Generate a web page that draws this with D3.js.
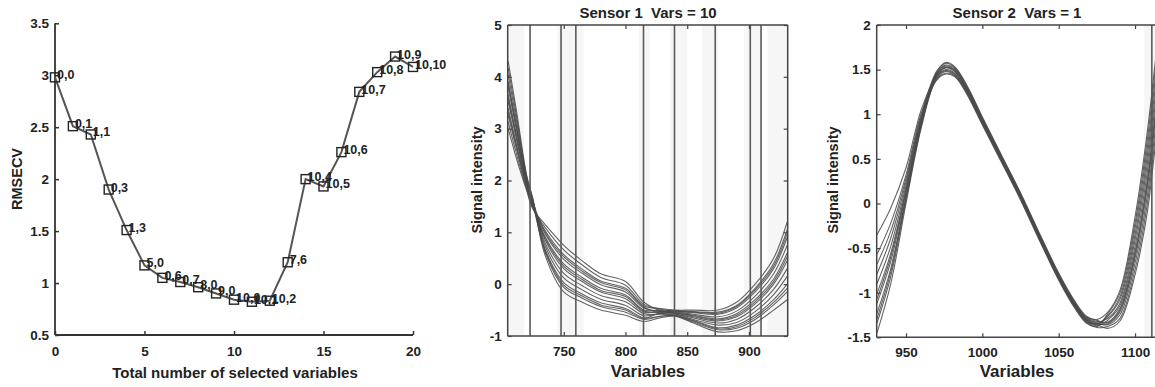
<!DOCTYPE html>
<html><head><meta charset="utf-8">
<script src="https://cdn.jsdelivr.net/npm/d3@7/dist/d3.min.js"></script>
<style>body{margin:0;background:#fff}svg{display:block}text{font-family:"Liberation Sans",Arial,sans-serif;font-weight:bold;fill:#222}</style>
</head><body><svg id="c" width="1155" height="387"></svg>
<script>
// ---------- Panel 1 data ----------
const nVars = [0,1,2,3,4,5,6,7,8,9,10,11,12,13,14,15,16,17,18,19,20];
const rmsecv = [2.98,2.51,2.43,1.90,1.51,1.17,1.05,1.01,0.96,0.90,0.84,0.82,0.83,1.20,2.00,1.93,2.26,2.84,3.03,3.18,3.08];
const pairLabels = ["0,0","0,1","1,1","0,3","1,3","5,0","0,6","0,7","8,0","9,0","10,0","10,1","10,2","7,6","10,4","10,5","10,6","10,7","10,8","10,9","10,10"];
const p1YTicks = [0.5,1,1.5,2,2.5,3,3.5];
const p1XTicks = [0,5,10,15,20];

// ---------- Panel 2 data (Sensor 1) ----------
const s1Vars = [705,712,720,725,735,750,765,780,800,815,828,840,855,875,890,905,920,931];
const s1Spectra = [
 [4.30,3.30,2.10,1.65,0.61,-0.06,-0.27,-0.43,-0.54,-0.68,-0.62,-0.60,-0.70,-0.84,-0.79,-0.60,-0.30,0.00],
 [4.17,3.21,2.07,1.63,0.55,-0.15,-0.35,-0.50,-0.60,-0.72,-0.65,-0.62,-0.75,-0.92,-0.90,-0.75,-0.50,-0.30],
 [4.04,3.12,2.04,1.61,0.73,0.12,-0.11,-0.29,-0.41,-0.61,-0.57,-0.56,-0.63,-0.71,-0.63,-0.38,0.00,0.45],
 [3.91,3.03,2.01,1.59,0.67,0.03,-0.19,-0.36,-0.47,-0.65,-0.62,-0.61,-0.73,-0.88,-0.85,-0.68,-0.40,-0.15],
 [3.78,2.94,1.98,1.57,0.85,0.30,0.05,-0.15,-0.28,-0.54,-0.53,-0.54,-0.58,-0.63,-0.52,-0.23,0.20,0.75],
 [3.65,2.85,1.95,1.55,0.79,0.21,-0.03,-0.22,-0.34,-0.57,-0.58,-0.58,-0.68,-0.79,-0.74,-0.53,-0.20,0.15],
 [3.52,2.76,1.92,1.53,0.91,0.39,0.13,-0.08,-0.21,-0.50,-0.50,-0.51,-0.53,-0.54,-0.41,-0.08,0.40,1.05],
 [3.39,2.67,1.89,1.51,0.97,0.48,0.21,-0.01,-0.15,-0.46,-0.52,-0.55,-0.60,-0.67,-0.57,-0.30,0.10,0.60],
 [3.26,2.58,1.86,1.49,1.03,0.57,0.29,0.06,-0.08,-0.42,-0.47,-0.50,-0.50,-0.50,-0.35,0.00,0.50,1.20],
 [3.13,2.49,1.83,1.47,1.09,0.66,0.37,0.13,-0.02,-0.39,-0.48,-0.52,-0.55,-0.58,-0.46,-0.15,0.30,0.90],
 [3.00,2.40,1.80,1.45,1.15,0.75,0.45,0.20,0.05,-0.35,-0.51,-0.57,-0.65,-0.75,-0.68,-0.45,-0.10,0.30],
 [3.59,2.81,1.94,1.54,0.64,-0.02,-0.23,-0.40,-0.50,-0.66,-0.55,-0.52,-0.54,-0.56,-0.43,-0.11,0.35,0.98],
 [3.85,2.99,2.00,1.58,1.00,0.53,0.25,0.03,-0.11,-0.44,-0.56,-0.60,-0.71,-0.86,-0.82,-0.64,-0.35,-0.08],
 [3.33,2.63,1.88,1.50,0.88,0.35,0.09,-0.12,-0.24,-0.52,-0.54,-0.55,-0.61,-0.69,-0.60,-0.34,0.05,0.53]
];
const s1Selected = [722.7,747.8,759.8,814.6,839.7,872.7,901.1,909.8];
const s1Bands = [[704.6,718],[745,766],[811,820],[836,850],[862,875],[896,909],[915,931.4]];
const s1YTicks = [-1,0,1,2,3,4,5];
const s1XTicks = [750,800,850,900];

// ---------- Panel 3 data (Sensor 2) ----------
const s2Vars = [931,940,950,960,970,976,982,990,1000,1012,1025,1037,1050,1060,1068,1075,1082,1090,1100,1108,1113,1117];
const s2Spectra = [
 [-0.35,-0.05,0.40,1.05,1.43,1.52,1.48,1.27,0.93,0.52,0.08,-0.36,-0.82,-1.12,-1.30,-1.35,-1.35,-1.22,-0.61,0.17,0.89,1.43],
 [-1.45,-0.90,0.00,0.85,1.41,1.49,1.45,1.25,0.91,0.50,0.06,-0.38,-0.84,-1.14,-1.32,-1.36,-1.40,-1.32,-0.80,-0.10,0.60,1.10],
 [-1.34,-0.82,0.04,0.87,1.45,1.54,1.50,1.29,0.94,0.54,0.10,-0.34,-0.80,-1.10,-1.28,-1.33,-1.29,-1.12,-0.41,0.44,1.17,1.76],
 [-1.23,-0.73,0.08,0.89,1.39,1.46,1.43,1.23,0.89,0.49,0.05,-0.39,-0.85,-1.15,-1.33,-1.38,-1.24,-1.01,-0.22,0.71,1.46,2.09],
 [-1.12,-0.65,0.12,0.91,1.47,1.57,1.52,1.31,0.96,0.55,0.11,-0.33,-0.79,-1.09,-1.27,-1.31,-1.33,-1.18,-0.54,0.26,0.98,1.54],
 [-1.01,-0.56,0.16,0.93,1.42,1.50,1.46,1.26,0.92,0.51,0.07,-0.37,-0.83,-1.13,-1.31,-1.35,-1.26,-1.05,-0.28,0.62,1.36,1.98],
 [-0.90,-0.48,0.20,0.95,1.44,1.53,1.49,1.28,0.93,0.53,0.09,-0.35,-0.81,-1.11,-1.29,-1.34,-1.36,-1.25,-0.67,0.08,0.79,1.32],
 [-0.79,-0.39,0.24,0.97,1.40,1.48,1.44,1.24,0.90,0.50,0.06,-0.38,-0.84,-1.14,-1.32,-1.37,-1.31,-1.15,-0.48,0.35,1.08,1.65],
 [-0.68,-0.31,0.28,0.99,1.48,1.58,1.53,1.32,0.97,0.56,0.12,-0.32,-0.78,-1.08,-1.26,-1.30,-1.22,-0.98,-0.15,0.80,1.55,2.20],
 [-0.57,-0.22,0.32,1.01,1.38,1.45,1.42,1.22,0.88,0.48,0.04,-0.40,-0.86,-1.16,-1.34,-1.39,-1.38,-1.29,-0.74,-0.01,0.70,1.21],
 [-1.29,-0.77,0.06,0.88,1.43,1.52,1.48,1.27,0.93,0.52,0.08,-0.36,-0.82,-1.12,-1.30,-1.35,-1.27,-1.08,-0.35,0.53,1.27,1.87],
 [-1.07,-0.60,0.14,0.92,1.46,1.55,1.51,1.30,0.95,0.54,0.10,-0.34,-0.80,-1.10,-1.28,-1.32,-1.34,-1.20,-0.57,0.22,0.93,1.49]
];
const s2Selected = [1111];
const s2Bands = [[1106,1117]];
const s2YTicks = [-1.5,-1,-0.5,0,0.5,1,1.5,2];
const s2XTicks = [950,1000,1050,1100];

const svg = d3.select("#c");
const AX = "#333";
const TICKFS = 13.5;

function tickFmt(v){ return String(v); }

// ---------- Panel 1 ----------
(function(){
  const x = d3.scaleLinear().domain([0,20]).range([55,413]);
  const y = d3.scaleLinear().domain([0.5,3.5]).range([335,23.3]);
  const g = svg.append("g");
  const ya = g.append("g").attr("transform","translate(55,0)")
    .call(d3.axisRight(y).tickValues(p1YTicks).tickSize(4).tickFormat(tickFmt));
  const xa = g.append("g").attr("transform","translate(0,335)")
    .call(d3.axisTop(x).tickValues(p1XTicks).tickSize(4).tickFormat(tickFmt));
  [ya,xa].forEach(a=>{a.select(".domain").attr("stroke",AX).attr("stroke-width",1.8);
    a.selectAll(".tick line").attr("stroke",AX).attr("stroke-width",1.5);
    a.selectAll("text").attr("fill","#222").attr("font-size",TICKFS).attr("font-weight","bold").attr("font-family","Liberation Sans, Arial");});
  ya.selectAll(".tick text").attr("x",-6).attr("text-anchor","end");
  xa.selectAll(".tick text").attr("y",21).attr("dy","0");
  xa.select(".domain").attr("d","M55,0H413");
  ya.select(".domain").attr("d","M0,335V23.3");
  const line = d3.line().x((d,i)=>x(nVars[i])).y(d=>y(d));
  g.append("path").datum(rmsecv).attr("d",line).attr("fill","none").attr("stroke","#555").attr("stroke-width",2);
  g.selectAll("rect.m").data(rmsecv).enter().append("rect")
    .attr("x",(d,i)=>x(nVars[i])-4.5).attr("y",d=>y(d)-4.5).attr("width",9).attr("height",9)
    .attr("fill","none").attr("stroke","#222").attr("stroke-width",1.4);
  g.selectAll("text.l").data(rmsecv).enter().append("text")
    .attr("x",(d,i)=>x(nVars[i])+2).attr("y",d=>y(d)+2).attr("font-size",12.5)
    .text((d,i)=>pairLabels[i]);
  g.append("text").attr("x",235).attr("y",378).attr("text-anchor","middle").attr("font-size",15).text("Total number of selected variables");
  g.append("text").attr("transform","translate(22,179) rotate(-90)").attr("text-anchor","middle").attr("font-size",14.5).text("RMSECV");
})();

// ---------- spectral panel ----------
function spectral(cfg){
  const x = d3.scaleLinear().domain(cfg.xd).range(cfg.xr);
  const y = d3.scaleLinear().domain(cfg.yd).range(cfg.yr);
  const g = svg.append("g");
  const cid = "clip"+cfg.id;
  g.append("clipPath").attr("id",cid).append("rect")
    .attr("x",cfg.xr[0]).attr("y",cfg.yr[1]).attr("width",cfg.xr[1]-cfg.xr[0]).attr("height",cfg.yr[0]-cfg.yr[1]);
  const inner = g.append("g").attr("clip-path","url(#"+cid+")");
  inner.selectAll("rect.band").data(cfg.bands).enter().append("rect")
    .attr("x",d=>x(d[0])).attr("width",d=>x(d[1])-x(d[0])).attr("y",cfg.yr[1]).attr("height",cfg.yr[0]-cfg.yr[1])
    .attr("fill","#f6f6f6");
  const line = d3.line().x((d,i)=>x(cfg.vars[i])).y(d=>y(d)).curve(d3.curveCatmullRom.alpha(0.5));
  inner.selectAll("path.s").data(cfg.spectra).enter().append("path")
    .attr("d",line).attr("fill","none").attr("stroke","#4a4a4a").attr("stroke-opacity",0.85).attr("stroke-width",1.1);
  inner.selectAll("line.sel").data(cfg.sel).enter().append("line")
    .attr("x1",d=>x(d)).attr("x2",d=>x(d)).attr("y1",cfg.yr[1]).attr("y2",cfg.yr[0])
    .attr("stroke","#5a5a5a").attr("stroke-width",1.6);
  const axes = [
    g.append("g").attr("transform",`translate(${cfg.xr[0]},0)`).call(d3.axisRight(y).tickValues(cfg.yt).tickSize(4).tickFormat(tickFmt)),
    g.append("g").attr("transform",`translate(0,${cfg.yr[0]})`).call(d3.axisTop(x).tickValues(cfg.xt).tickSize(4).tickFormat(tickFmt)),
    g.append("g").attr("transform",`translate(${cfg.xr[1]},0)`).call(d3.axisLeft(y).tickValues(cfg.yt).tickSize(4).tickFormat("")),
    g.append("g").attr("transform",`translate(0,${cfg.yr[1]})`).call(d3.axisBottom(x).tickValues(cfg.xt).tickSize(4).tickFormat(""))
  ];
  axes.forEach(a=>{a.select(".domain").attr("stroke","#444").attr("stroke-width",1.5);
    a.selectAll(".tick line").attr("stroke","#444").attr("stroke-width",1.2);
    a.selectAll("text").attr("fill","#222").attr("font-size",TICKFS).attr("font-weight","bold").attr("font-family","Liberation Sans, Arial");});
  axes[0].selectAll(".tick text").attr("x",-6).attr("text-anchor","end");
  axes[1].selectAll(".tick text").attr("y",20);
  axes[0].select(".domain").attr("d",`M0,${cfg.yr[0]}V${cfg.yr[1]}`);
  axes[2].select(".domain").attr("d",`M0,${cfg.yr[0]}V${cfg.yr[1]}`);
  axes[1].select(".domain").attr("d",`M${cfg.xr[0]},0H${cfg.xr[1]}`);
  axes[3].select(".domain").attr("d",`M${cfg.xr[0]},0H${cfg.xr[1]}`);
  g.append("text").attr("x",cfg.tx).attr("y",18).attr("text-anchor","middle").attr("font-size",15).attr("xml:space","preserve").text(cfg.title);
  g.append("text").attr("x",cfg.tx).attr("y",377).attr("text-anchor","middle").attr("font-size",17).text("Variables");
  g.append("text").attr("transform",`translate(${cfg.yl},180) rotate(-90)`).attr("text-anchor","middle").attr("font-size",14.5).text("Signal intensity");
}

spectral({id:1, xd:[704.6,931.4], xr:[507.7,787.7], yd:[-1,5], yr:[336,25],
  vars:s1Vars, spectra:s1Spectra, sel:s1Selected, bands:s1Bands, yt:s1YTicks, xt:s1XTicks,
  title:"Sensor 1  Vars = 10", tx:648, yl:482});
spectral({id:2, xd:[930.8,1117], xr:[876.7,1161], yd:[-1.5,2], yr:[337.3,25],
  vars:s2Vars, spectra:s2Spectra, sel:s2Selected, bands:s2Bands, yt:s2YTicks, xt:s2XTicks,
  title:"Sensor 2  Vars = 1", tx:1017, yl:838});
</script></body></html>
